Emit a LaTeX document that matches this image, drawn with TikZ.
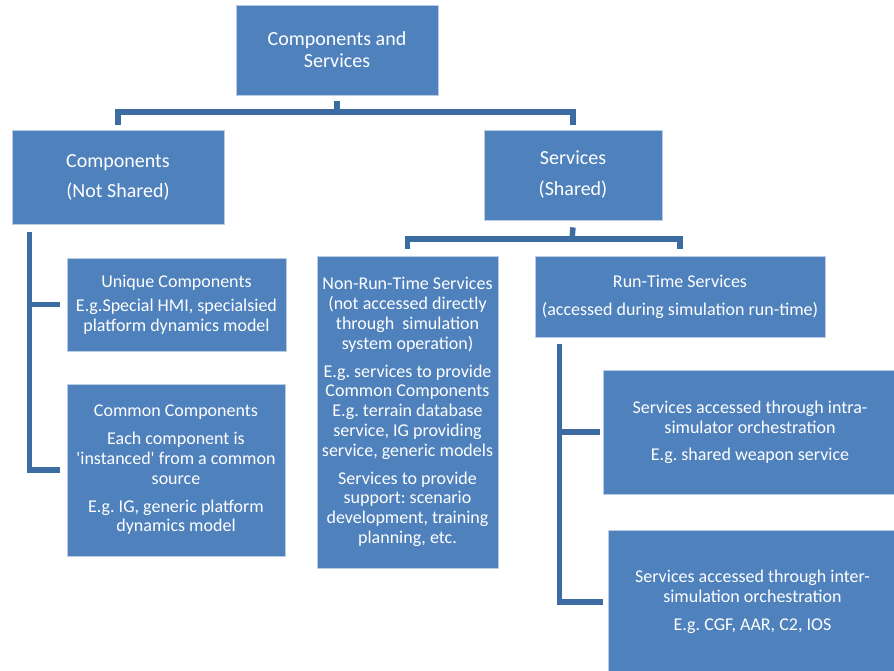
\documentclass[tikz,border=0pt]{standalone}
\usepackage{fontspec}
\setmainfont{Carlito}
\usetikzlibrary{calc}
\definecolor{boxfill}{HTML}{4F81BD}
\definecolor{boxline}{HTML}{B9CDE5}
\definecolor{linkc}{HTML}{3D6CA3}
\frenchspacing
\begin{document}
\begin{tikzpicture}[x=1pt,y=-1pt,
  box/.style={rectangle, fill=boxfill, draw=boxline, line width=0.8pt,
    text=white, align=center, inner sep=0pt,
    font=\fontsize{18}{19.8}\selectfont},
  bigbox/.style={box, font=\fontsize{20}{22}\selectfont},
  conn/.style={draw=linkc, line width=5.5pt}]
\useasboundingbox (0,0) rectangle (894,671);

% boxes
\node[bigbox, minimum width=202pt, minimum height=90pt] (top) at (337,50)
  {Components and\\Services};
\node[bigbox, minimum width=212pt, minimum height=94pt] (comp) at (118,177)
  {Components\\[8pt](Not Shared)};
\node[bigbox, minimum width=178pt, minimum height=90pt] (serv) at (573,175)
  {Services\\[9pt](Shared)};
\node[box, minimum width=219pt, minimum height=93pt] (unique) at (176.5,304.5)
  {Unique Components\\[4pt]E.g.Special HMI, specialsied\\platform dynamics model};
\node[box, minimum width=218pt, minimum height=172pt] (common) at (176,470)
  {Common Components\\[8pt]Each component is\\\textquotesingle instanced\textquotesingle\ from a common\\source\\[8pt]E.g. IG, generic platform\\dynamics model};
\node[box, minimum width=181pt, minimum height=312pt] (nrt) at (407.5,412)
  {Non-Run-Time Services\\(not accessed directly\\through~ simulation\\system operation)\\[8pt]E.g. services to provide\\Common Components\\E.g. terrain database\\service, IG providing\\service, generic models\\[8pt]Services to provide\\support: scenario\\development, training\\planning, etc.};
\node[box, minimum width=290pt, minimum height=81pt] (rt) at (680,297)
  {Run-Time Services\\[8pt](accessed during simulation run-time)};
\node[box, minimum width=294pt, minimum height=124pt] (intra) at (750,432)
  {Services accessed through intra-\\simulator orchestration\\[7pt]E.g. shared weapon service};
\node[box, minimum width=289pt, minimum height=144pt] (inter) at (752.5,602)
  {Services accessed through inter-\\simulation orchestration\\[8pt]E.g. CGF, AAR, C2, IOS};

% junction points
\coordinate (j1) at (337,112);
\coordinate (j2) at (572,239);

% top level tree
\draw[conn] ([yshift=-6pt]top.south) -- (j1);
\draw[conn] ([yshift=5pt]comp.north) |- (j1) -| ([yshift=5pt]serv.north);

% services tree
\draw[conn] ([yshift=-7pt]serv.south) -- (j2);
\draw[conn] ([yshift=7pt]nrt.north) |- (j2) -| ([yshift=7pt]rt.north);

% components spine
\coordinate (cs) at ([shift={(18pt,-8pt)}]comp.south west);
\draw[conn] (cs) |- ([xshift=-7pt]common.west);
\draw[conn] (cs |- unique.west) -- ([xshift=-7pt]unique.west);

% run-time spine
\coordinate (rs) at ([shift={(25pt,-6pt)}]rt.south west);
\draw[conn] (rs) |- ([xshift=-5pt]inter.west);
\draw[conn] (rs |- intra.west) -- ([xshift=-3pt]intra.west);
\end{tikzpicture}
\end{document}
